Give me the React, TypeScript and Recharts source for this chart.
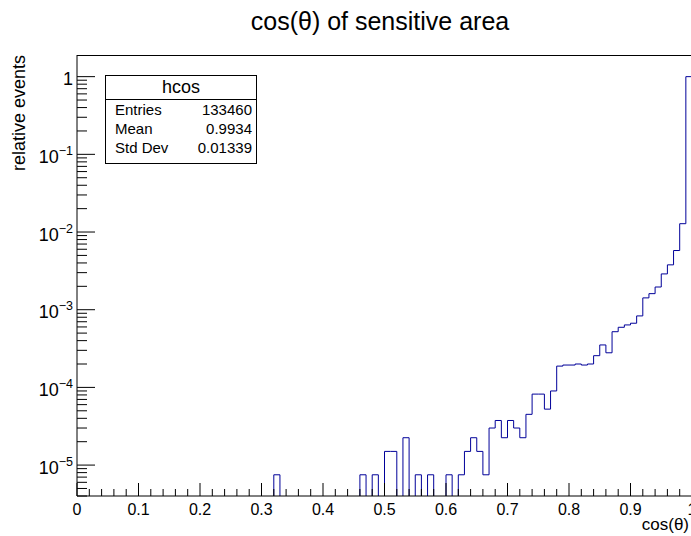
import React from "react";
import { LineChart, Line, XAxis, YAxis } from "recharts";

// relative events per bin of cos(theta), 100 bins from 0 to 1 (0 = empty bin)
const relativeEvents = [
  0, 0, 0, 0, 0, 0, 0, 0, 0, 0,
  0, 0, 0, 0, 0, 0, 0, 0, 0, 0,
  0, 0, 0, 0, 0, 0, 0, 0, 0, 0,
  0, 0, 7.5e-6, 0, 0, 0, 0, 0, 0, 0,
  0, 0, 0, 0, 0, 0, 7.5e-6, 0, 7.5e-6, 0,
  1.5e-5, 1.5e-5, 0, 2.25e-5, 0, 7.5e-6, 0, 7.5e-6, 0, 0,
  7.5e-6, 0, 7.5e-6, 1.5e-5, 2.25e-5, 1.5e-5, 7.5e-6, 3.0e-5, 3.75e-5, 2.25e-5,
  3.75e-5, 3.0e-5, 2.25e-5, 4.5e-5, 8.2e-5, 8.2e-5, 5.25e-5, 9.0e-5, 1.88e-4, 1.94e-4,
  1.94e-4, 2.0e-4, 1.94e-4, 2.0e-4, 2.56e-4, 3.52e-4, 2.79e-4, 5.21e-4, 5.94e-4, 6.37e-4,
  6.7e-4, 8.32e-4, 1.42e-3, 1.61e-3, 1.96e-3, 2.89e-3, 3.78e-3, 5.78e-3, 1.28e-2, 1.0,
];

const xTickLabels = ["0", "0.1", "0.2", "0.3", "0.4", "0.5", "0.6", "0.7", "0.8", "0.9", "1"];
const yDecades = [-5, -4, -3, -2, -1, 0];
const statsRows = [
  ["Entries", "133460"],
  ["Mean", "0.9934"],
  ["Std Dev", "0.01339"],
];

const Y_MIN = 4.0e-6;
const Y_MAX = 1.9;
const EMPTY = 1e-8; // empty bins fall below the frame and get clipped
const FONT = "'Liberation Sans', Arial, Helvetica, sans-serif";

if (typeof document !== "undefined") {
  document.body.style.margin = "0";
}

const nBins = relativeEvents.length;
const data = relativeEvents.map((v, i) => ({ x: i / nBins, y: v > 0 ? v : EMPTY }));
data.push({ x: 1, y: relativeEvents[nBins - 1] });

const xTicks: number[] = [];
for (let i = 0; i <= 50; i++) xTicks.push(i / 50);

const yTicks: number[] = [];
for (let n = -6; n <= 0; n++) {
  for (let k = 1; k <= 9; k++) {
    const v = k * Math.pow(10, n);
    if (v >= Y_MIN && v <= Y_MAX) yTicks.push(v);
  }
}

function XTick({ x, y, payload }: any) {
  const v = payload.value;
  const idx = Math.round(v * 10);
  const major = Math.abs(v * 10 - idx) < 1e-6;
  return (
    <g>
      <line x1={x} y1={y} x2={x} y2={y - (major ? 13 : 7)} stroke='#000' />
      {major && (
        <text x={x} y={y + 19} textAnchor='middle' fontSize={16} fontFamily={FONT} fill='#000'>
          {xTickLabels[idx]}
        </text>
      )}
    </g>
  );
}

function YTick({ x, y, payload }: any) {
  const e = Math.log10(payload.value);
  const exp = Math.round(e);
  const major = Math.abs(e - exp) < 1e-6 && yDecades.includes(exp);
  return (
    <g>
      <line x1={x} y1={y} x2={x + (major ? 18 : 10)} y2={y} stroke='#000' />
      {major && (
        <text x={x - 4} y={y + 8.5} textAnchor='end' fontSize={18} fontFamily={FONT} fill='#000'>
          {exp === 0 ? (
            "1"
          ) : (
            <>
              <tspan>10</tspan>
              <tspan dy={-8} fontSize={12.5}>{`\u2212${-exp}`}</tspan>
            </>
          )}
        </text>
      )}
    </g>
  );
}

export default function App() {
  return (
    <div
      style={{
        width: 691,
        height: 536,
        overflow: "hidden",
        position: "relative",
        background: "#fff",
      }}
    >
      <LineChart width={720} height={536} data={data} margin={{ top: 55, right: 28, bottom: 0, left: 0 }}>
        <XAxis
          dataKey='x'
          type='number'
          domain={[0, 1]}
          ticks={xTicks}
          interval={0}
          tickLine={false}
          tickSize={0}
          tickMargin={0}
          tick={<XTick />}
          axisLine={{ stroke: "#000" }}
          height={40}
        />
        <YAxis
          scale='log'
          type='number'
          domain={[Y_MIN, Y_MAX]}
          allowDataOverflow
          ticks={yTicks}
          interval={0}
          tickLine={false}
          tickSize={0}
          tickMargin={0}
          tick={<YTick />}
          axisLine={{ stroke: "#000" }}
          width={77}
        />
        <Line
          type='stepAfter'
          dataKey='y'
          stroke='#000099'
          strokeWidth={1}
          dot={false}
          activeDot={false}
          isAnimationActive={false}
        />
      </LineChart>

      <svg
        width={691}
        height={536}
        style={{ position: "absolute", left: 0, top: 0, pointerEvents: "none" }}
        fontFamily={FONT}
      >
        <line x1={77} y1={55.5} x2={691} y2={55.5} stroke='#000' />
        <text x={380} y={30} textAnchor='middle' fontSize={25} fill='#000'>
          cos(θ) of sensitive area
        </text>
        <text transform='translate(25,55) rotate(-90)' textAnchor='end' fontSize={18} fill='#000'>
          relative events
        </text>
        <text x={689} y={530} textAnchor='end' fontSize={17} fill='#000'>
          cos(θ)
        </text>

        <rect x={105.5} y={75.5} width={151} height={88} fill='#fff' stroke='#000' />
        <line x1={105.5} y1={99.5} x2={256.5} y2={99.5} stroke='#000' />
        <text x={181} y={93} textAnchor='middle' fontSize={18} fill='#000'>
          hcos
        </text>
        {statsRows.map(([label, value], i) => (
          <g key={label}>
            <text x={115} y={115 + i * 19} fontSize={15} fill='#000'>
              {label}
            </text>
            <text x={252} y={115 + i * 19} textAnchor='end' fontSize={15} fill='#000'>
              {value}
            </text>
          </g>
        ))}
      </svg>
    </div>
  );
}
